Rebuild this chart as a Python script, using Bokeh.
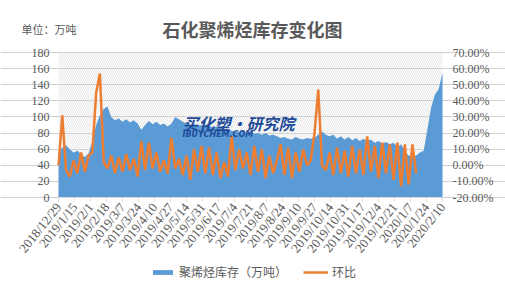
import pandas as pd
from bokeh.plotting import figure
from bokeh.models import (Range1d, LinearAxis, FixedTicker, BoxAnnotation, Label,
                          Legend, LegendItem)
from bokeh.embed import file_html
from bokeh.resources import INLINE

start = "2018-12-29"
dates = pd.date_range(start, "2020-02-10", freq="4D")

stock = [55, 62, 65, 60, 56, 58, 54, 50, 55, 70,
         90, 102, 110, 113, 100, 96, 98, 94, 97, 93,
         96, 92, 84, 90, 95, 91, 94, 90, 92, 88,
         92, 100, 97, 94, 92, 90, 91, 89, 90, 88,
         89, 87, 88, 86, 85, 84, 83, 82, 81, 83,
         80, 82, 79, 80, 78, 80, 77, 78, 76, 74,
         75, 73, 72, 75, 73, 72, 74, 73, 74, 78,
         82, 78, 76, 78, 73, 76, 72, 75, 71, 74,
         70, 73, 70, 72, 68, 70, 67, 69, 66, 68,
         63, 66, 58, 52, 50, 52, 56, 58, 85, 112,
         128, 135, 155]

pct = [0, 31, -3, -7, 3, -5, 8, -4, 6, 8,
       45, 57, 2, -2, 6, -5, 5, -4, 7, -3,
       4, -7, 15, -3, 14, -2, 8, -4, 3, -5,
       17, -2, 4, -6, 6, -9, 10, -4, 12, -5,
       11, -6, 8, -8, 2, -7, 18, -3, 10, -2,
       8, -6, 12, -4, 10, -8, 6, -5, 3, 13,
       -6, 11, -8, 8, -4, 10, 0, 3, 20, 47,
       0, -3, 8, -6, 11, -5, 9, -7, 12, -5,
       10, -6, 18, -4, 12, -8, 14, -5, 13, -9,
       14, -13, 13, -12, 13, -5]

tick_labels = ["2018/12/29", "2019/1/15", "2019/2/1", "2019/2/18", "2019/3/7",
               "2019/3/24", "2019/4/10", "2019/4/27", "2019/5/14", "2019/5/31",
               "2019/6/17", "2019/7/4", "2019/7/21", "2019/8/7", "2019/8/24",
               "2019/9/10", "2019/9/27", "2019/10/14", "2019/10/31", "2019/11/17",
               "2019/12/4", "2019/12/21", "2020/1/7", "2020/1/24", "2020/2/10"]

left_ticks = list(range(0, 181, 20))
right_ticks = list(range(-20, 71, 10))

title_text = "石化聚烯烃库存变化图"
unit_text = "单位：万吨"
legend_labels = ["聚烯烃库存（万吨）", "环比"]

# ---- derived positions ----
t0 = pd.Timestamp(start)
xd = [(d - t0).days for d in dates]
xp = xd[:len(pct)]
tick_pos = [(pd.Timestamp(s) - t0).days for s in tick_labels]

GRAY = "#595959"
BLUE = "#5b9bd5"
ORANGE = "#ed7d31"
CJK = "Noto Sans CJK SC"
SERIF = "Liberation Serif"

# canvas geometry: the plotting box sits at x 58..442, y 52..197 (from top)
W, H = 505, 288
BL, BR, BT, BB = 58, 442, 52, 197
x0, x1 = tick_pos[0], tick_pos[-1]
y0, y1 = left_ticks[0], left_ticks[-1]
r0, r1 = right_ticks[0], right_ticks[-1]
kx = (x1 - x0) / (BR - BL)
ky = (y1 - y0) / (BB - BT)
kr = (r1 - r0) / (BB - BT)

p = figure(width=W, height=H, output_backend="svg", toolbar_location=None,
           x_range=Range1d(x0 - BL * kx, x1 + (W - BR) * kx),
           y_range=Range1d(y0 - (H - BB) * ky, y1 + BT * ky),
           min_border=0)
p.title.visible = False
p.outline_line_color = None
p.background_fill_color = "white"
p.extra_y_ranges = {"pct": Range1d(r0 - (H - BB) * kr, r1 + BT * kr)}

# hatched plot box
p.add_layout(BoxAnnotation(left=x0, right=x1, bottom=y0, top=y1, level="underlay",
                           fill_alpha=0, line_color=None,
                           hatch_pattern="\\", hatch_color="#d9d9d9",
                           hatch_scale=4, hatch_weight=0.6))

p.xgrid.visible = False
p.ygrid.grid_line_color = "#d0d0d0"
p.ygrid.ticker = FixedTicker(ticks=left_ticks)
p.ygrid.bounds = (x0, x1)

area = p.varea(x=xd, y1=0, y2=stock, fill_color=BLUE)
line = p.line(x=xp, y=pct, y_range_name="pct", line_color=ORANGE, line_width=2.5)

# left axis
la = p.yaxis[0]
la.fixed_location = x0
la.ticker = FixedTicker(ticks=left_ticks)
la.bounds = (y0, y1)
la.axis_line_color = None
la.major_tick_line_color = None
la.major_tick_out = 0
la.major_tick_in = 0
la.minor_tick_line_color = None
la.major_label_standoff = 9
la.major_label_text_font = SERIF
la.major_label_text_font_size = "12px"
la.major_label_text_color = GRAY

# right axis
ra = LinearAxis(y_range_name="pct", ticker=FixedTicker(ticks=right_ticks))
ra.fixed_location = x1
ra.bounds = (r0, r1)
ra.major_label_overrides = {v: f"{v}.00%" for v in right_ticks}
ra.axis_line_color = None
ra.major_tick_line_color = None
ra.major_tick_out = 0
ra.major_tick_in = 0
ra.minor_tick_line_color = None
ra.major_label_standoff = 10
ra.major_label_text_font = SERIF
ra.major_label_text_font_size = "12px"
ra.major_label_text_color = GRAY
p.add_layout(ra, "right")

# date axis
xa = p.xaxis[0]
xa.fixed_location = y0
xa.bounds = (x0, x1)
xa.ticker = FixedTicker(ticks=tick_pos)
xa.major_label_overrides = {v: s for v, s in zip(tick_pos, tick_labels)}
xa.major_label_orientation = 0.9
xa.major_label_text_font = SERIF
xa.major_label_text_font_size = "13px"
xa.major_label_text_color = GRAY
xa.axis_line_color = "#d9d9d9"
xa.major_tick_line_color = "#d9d9d9"
xa.major_tick_in = 0
xa.major_tick_out = 4
xa.minor_tick_line_color = None
xa.major_label_standoff = 3

# legend (screen px from the canvas' lower-left corner)
legend = Legend(items=[LegendItem(label=legend_labels[0], renderers=[area]),
                       LegendItem(label=legend_labels[1], renderers=[line])],
                orientation="horizontal", location=(150, 8),
                glyph_width=25, glyph_height=6, label_standoff=4, spacing=16,
                label_text_font=CJK, label_text_font_size="12px",
                label_text_color=GRAY, background_fill_alpha=0,
                border_line_color=None, padding=2, margin=0)
p.add_layout(legend, "center")

# title row
p.add_layout(Label(x=252, y=H - 28, x_units="screen", y_units="screen",
                   text=title_text, text_font=CJK, text_font_style="bold",
                   text_font_size="18px", text_color=GRAY, text_align="center",
                   text_baseline="middle"))
p.add_layout(Label(x=21, y=H - 28, x_units="screen", y_units="screen",
                   text=unit_text, text_font=CJK, text_font_size="11px",
                   text_color=GRAY, text_align="left", text_baseline="middle"))

# watermark
p.add_layout(Label(x=182, y=H - 122, x_units="screen", y_units="screen",
                   text="买化塑·研究院", text_font=CJK, text_font_style="bold italic",
                   text_font_size="16px", text_color="#1f4b99", text_align="left",
                   text_baseline="middle"))
p.add_layout(Label(x=182, y=H - 134, x_units="screen", y_units="screen",
                   text="IBUYCHEM.COM", text_font="DejaVu Sans", text_font_style="bold italic",
                   text_font_size="8px", text_color="#1f4b99", text_align="left",
                   text_baseline="middle"))

open("out.html", "w").write(file_html(p, INLINE))
